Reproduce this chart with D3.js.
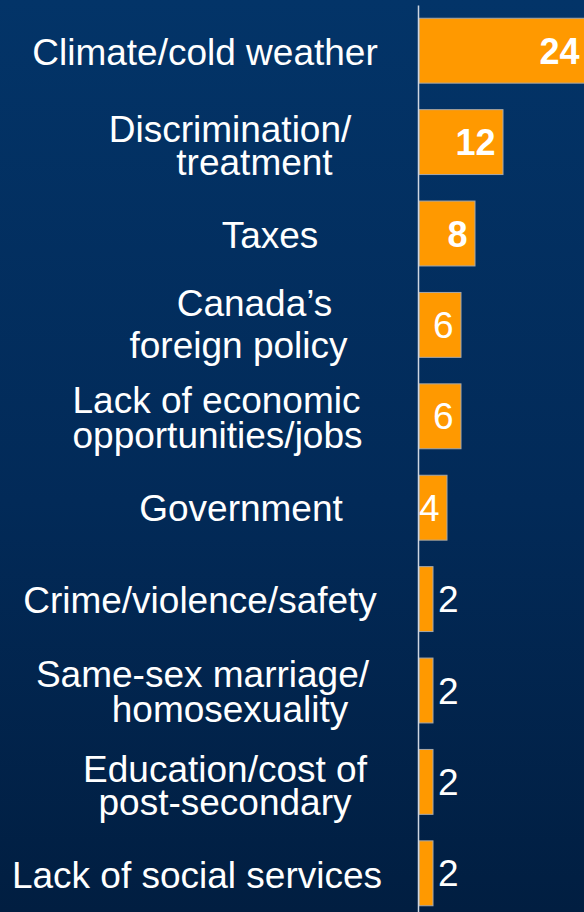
<!DOCTYPE html>
<html>
<head>
<meta charset="utf-8">
<script src="https://cdn.jsdelivr.net/npm/d3@7"></script>
<style>
  html, body { margin: 0; padding: 0; background: #022a58; }
  svg { display: block; }
</style>
</head>
<body>
<svg id="chart" width="584" height="912"></svg>
<script>
// ---- data ----
const categories = [
  "Climate/cold weather",
  "Discrimination/treatment",
  "Taxes",
  "Canada’s foreign policy",
  "Lack of economic opportunities/jobs",
  "Government",
  "Crime/violence/safety",
  "Same-sex marriage/homosexuality",
  "Education/cost of post-secondary",
  "Lack of social services"
];
const categoryLines = [
  ["Climate/cold weather"],
  ["Discrimination/", "treatment"],
  ["Taxes"],
  ["Canada’s", "foreign policy"],
  ["Lack of economic", "opportunities/jobs"],
  ["Government"],
  ["Crime/violence/safety"],
  ["Same-sex marriage/", "homosexuality"],
  ["Education/cost of", "post-secondary"],
  ["Lack of social services"]
];
const values = [24, 12, 8, 6, 6, 4, 2, 2, 2, 2];

// ---- layout (label line centre x and baseline offset from band centre) ----
const labelLayout = [
  [[205, 14.5]],
  [[230, -0.5], [254.5, 32.5]],
  [[270, 14]],
  [[254.5, -9], [238.5, 33]],
  [[216.5, -3.5], [217.5, 31.5]],
  [[241, 13.5]],
  [[200, 14]],
  [[202.5, -3.5], [230, 31.5]],
  [[225, 0], [225, 33]],
  [[197, 14.5]]
];

const W = 584, H = 912;
const svg = d3.select("#chart");

// background gradient
const defs = svg.append("defs");
const grad = defs.append("linearGradient").attr("id", "bg")
  .attr("x1", 0).attr("y1", 0).attr("x2", 0).attr("y2", 1);
grad.append("stop").attr("offset", "0%").attr("stop-color", "#033468");
grad.append("stop").attr("offset", "55%").attr("stop-color", "#022a58");
grad.append("stop").attr("offset", "100%").attr("stop-color", "#011e41");
svg.append("rect").attr("width", W).attr("height", H).attr("fill", "url(#bg)");

const x = d3.scaleLinear().domain([0, 24]).range([419, 587]);
const y = d3.scaleBand().domain(categories).range([5, 919])
  .paddingInner(0.29).paddingOuter(0.145);

const fontFamily = "'Liberation Sans', Arial, Helvetica, sans-serif";

// bars
svg.append("g").selectAll("rect")
  .data(values)
  .join("rect")
  .attr("x", x(0))
  .attr("y", (d, i) => y(categories[i]))
  .attr("width", d => x(d) - x(0))
  .attr("height", y.bandwidth())
  .attr("fill", "#FF9900")
  .attr("stroke", "#a8a8a8")
  .attr("stroke-width", 1);

// vertical axis line
const axis = d3.axisLeft(y).tickSize(0).tickSizeOuter(0).tickFormat("");
const axG = svg.append("g").attr("transform", `translate(${x(0) - 1},0)`).call(axis);
axG.select(".domain").attr("stroke", "#cdd5e2").attr("stroke-width", 1.5);
axG.selectAll(".tick").remove();

// category labels (one text element per category, one tspan per line)
const labels = svg.append("g").selectAll("text")
  .data(categoryLines)
  .join("text")
  .attr("text-anchor", "middle")
  .attr("fill", "#ffffff")
  .style("font-family", fontFamily)
  .style("font-size", "37px");

labels.each(function (lines, i) {
  const cy = y(categories[i]) + y.bandwidth() / 2;
  const t = d3.select(this);
  lines.forEach((line, j) => {
    const [lx, dy] = labelLayout[i][j];
    t.append("tspan")
      .attr("x", lx)
      .attr("y", cy + dy)
      .text(line);
  });
});

// value labels
svg.append("g").selectAll("text")
  .data(values)
  .join("text")
  .attr("x", d => d >= 4 ? x(d) - 7.5 : x(d) + 5)
  .attr("y", (d, i) => y(categories[i]) + y.bandwidth() / 2 + 13)
  .attr("text-anchor", d => d >= 4 ? "end" : "start")
  .attr("fill", "#ffffff")
  .style("font-family", fontFamily)
  .style("font-size", d => d >= 8 ? "36px" : "37px")
  .style("font-weight", d => d >= 8 ? "bold" : "normal")
  .text(d => d);
</script>
</body>
</html>
